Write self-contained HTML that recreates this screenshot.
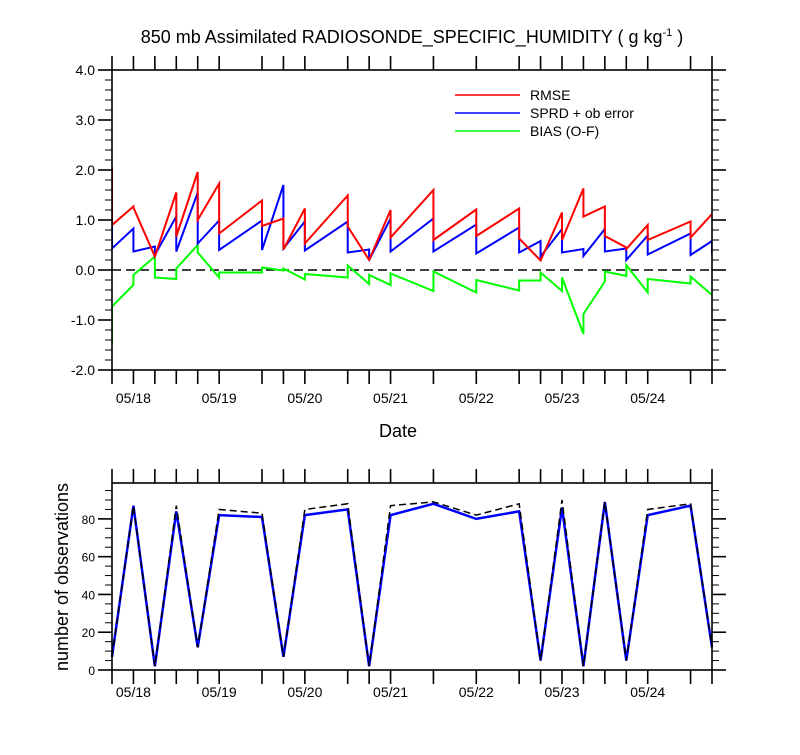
<!DOCTYPE html>
<html><head><meta charset="utf-8"><style>
body{margin:0;background:#fff;}
svg text{font-family:"Liberation Sans",Arial,sans-serif;fill:#000;}
</style></head><body>
<svg id="chart" width="800" height="750" xmlns="http://www.w3.org/2000/svg">
<text x="412" y="43" font-size="18" text-anchor="middle">850 mb Assimilated RADIOSONDE_SPECIFIC_HUMIDITY ( g kg<tspan dy="-7" font-size="11">-1</tspan><tspan dy="7"> )</tspan></text>
<g id="topPanel"></g>
<g id="botPanel"></g>
<text x="398" y="437" font-size="18" text-anchor="middle">Date</text>
<text transform="translate(68,577) rotate(-90)" font-size="18" text-anchor="middle">number of observations</text>
<g>
<line x1="455" y1="95" x2="520" y2="95" stroke="#f00" stroke-width="1.6"/>
<text x="530" y="100" font-size="14">RMSE</text>
<line x1="455" y1="113" x2="520" y2="113" stroke="#00f" stroke-width="1.6"/>
<text x="530" y="118" font-size="14">SPRD + ob error</text>
<line x1="455" y1="131" x2="520" y2="131" stroke="#0f0" stroke-width="1.6"/>
<text x="530" y="136" font-size="14">BIAS (O-F)</text>
</g>
</svg>
<script>
// times in 6-hour steps from 05/17 18Z
const times=[0,1,2,3,4,5,7,8,9,11,12,13,15,17,19,20,21,22,23,24,25,27,28];
const rmseA=[2.06,1.27,0.27,1.55,1.96,1.73,1.39,1.03,1.23,1.49,0.2,1.2,1.6,1.21,1.23,0.19,1.15,1.63,1.27,0.45,0.9,0.97,1.12];
const rmseB=[0.9,1.25,0.27,0.67,1.0,0.73,0.88,0.41,0.53,0.87,0.2,0.65,0.6,0.68,0.63,0.19,0.6,1.07,0.68,0.42,0.6,0.65,1.12];
const sprdA=[0.9,0.83,0.47,1.07,1.55,0.99,0.99,1.7,0.97,0.97,0.41,1.03,1.03,0.91,0.85,0.58,0.82,0.42,0.82,0.43,0.69,0.73,0.58];
const sprdB=[0.43,0.37,0.3,0.37,0.53,0.4,0.4,0.43,0.39,0.35,0.2,0.37,0.37,0.33,0.35,0.27,0.35,0.28,0.37,0.2,0.31,0.3,0.3];
const biasA=[-1.5,-0.3,0.27,-0.18,0.5,-0.15,-0.05,-0.01,-0.19,-0.15,-0.28,-0.3,-0.42,-0.45,-0.41,-0.21,-0.42,-1.28,-0.23,-0.12,-0.45,-0.27,-0.5];
const biasB=[-0.73,-0.1,-0.15,0.03,0.35,-0.05,0.05,0.03,-0.08,0.09,-0.1,-0.07,-0.03,-0.2,-0.21,-0.05,-0.15,-0.88,-0.03,0.1,-0.18,-0.13,-0.5];
const nUsed=[7,87,2,84,12,82,81,7,82,85,2,82,88,80,84,5,86,2,89,5,82,87,12];
const nPoss=[7,87,2,87,12,85,83,7,85,88,2,87,89,82,88,5,90,2,89,5,85,88,12];
const yTicksTop=["4.0","3.0","2.0","1.0","0.0","-1.0","-2.0"];
const yTicksBot=["0","20","40","60","80"];
const dateLabels=["05/18","05/19","05/20","05/21","05/22","05/23","05/24"];

const NS="http://www.w3.org/2000/svg";
const X0=112,X1=712,TMAX=28;
const xs=t=>X0+(X1-X0)*t/TMAX;
const yTop=v=>270-50*v;
const yBot=v=>670-187*v/99;
function mk(p,tag,at){const e=document.createElementNS(NS,tag);for(const k in at)e.setAttribute(k,at[k]);p.appendChild(e);return e;}
const topG=document.getElementById('topPanel'),botG=document.getElementById('botPanel');

function frame(g,yT,yB,ticks,tickVal,ys,minorStep,minMax,labFs,dateOff){
  times.forEach(t=>{
    const x=xs(t);
    const a=mk(g,'line',{x1:x,y1:yT-14,x2:x,y2:yT,stroke:'#000','stroke-width':1.6});
    
    
    const b=mk(g,'line',{x1:x,y1:yB,x2:x,y2:yB+14,stroke:'#000','stroke-width':1.6});
    
    
  });
  const n=Math.round((minMax[1]-minMax[0])/minorStep);
  for(let k=0;k<=n;k++){
    const v=minMax[0]+k*minorStep;
    const y=ys(v);
    const isMaj=tickVal.some(m=>Math.abs(m-v)<1e-6);
    const L=isMaj?14:7;
    mk(g,'line',{x1:X0-L,y1:y,x2:X0,y2:y,stroke:'#000','stroke-width':isMaj?1.6:1});
    mk(g,'line',{x1:X1,y1:y,x2:X1+L,y2:y,stroke:'#000','stroke-width':isMaj?1.6:1});
  }
  ticks.forEach((s,i)=>{
    const e=mk(g,'text',{x:X0-17,y:ys(tickVal[i])+5,'font-size':labFs,'text-anchor':'end'});
    e.textContent=s;
    
    
  });
  dateLabels.forEach((s,i)=>{
    const e=mk(g,'text',{x:xs(1+4*i),y:yB+dateOff,'font-size':14,'text-anchor':'middle'});
    e.textContent=s;
    
    
  });
  const r=mk(g,'rect',{x:X0,y:yT,width:X1-X0,height:yB-yT,fill:'none',stroke:'#000','stroke-width':1.6});
  
  
}

function saw(g,A,B,color,name){
  let d='';
  times.forEach((t,i)=>{d+=(i?'L':'M')+xs(t)+','+yTop(A[i])+'L'+xs(t)+','+yTop(B[i]);});
  const p=mk(g,'path',{d:d,fill:'none',stroke:color,'stroke-width':2});
  
  
}
const clip=mk(topG,'clipPath',{id:'ct'});
mk(clip,'rect',{x:X0,y:70,width:X1-X0,height:300});
const tg=mk(topG,'g',{'clip-path':'url(#ct)'});
const zl=mk(tg,'line',{x1:X0,y1:yTop(0),x2:X1,y2:yTop(0),stroke:'#000','stroke-width':1.6,'stroke-dasharray':'9,5'});


saw(tg,biasA,biasB,'#0f0','bias-line');
saw(tg,sprdA,sprdB,'#00f','spread-line');
saw(tg,rmseA,rmseB,'#f00','rmse-line');
frame(topG,70,370,yTicksTop,[4,3,2,1,0,-1,-2],yTop,0.2,[-2,4],14,33);

let d1='',d2='';
times.forEach((t,i)=>{d1+=(i?'L':'M')+xs(t)+','+yBot(nUsed[i]);d2+=(i?'L':'M')+xs(t)+','+yBot(nPoss[i]);});
const pu=mk(botG,'path',{d:d1,fill:'none',stroke:'#00f','stroke-width':2.5});


const pp=mk(botG,'path',{d:d2,fill:'none',stroke:'#000','stroke-width':1.5,'stroke-dasharray':'7,4'});


frame(botG,483,670,yTicksBot,[0,20,40,60,80],yBot,5,[0,95],12,27);
</script>
</body></html>
